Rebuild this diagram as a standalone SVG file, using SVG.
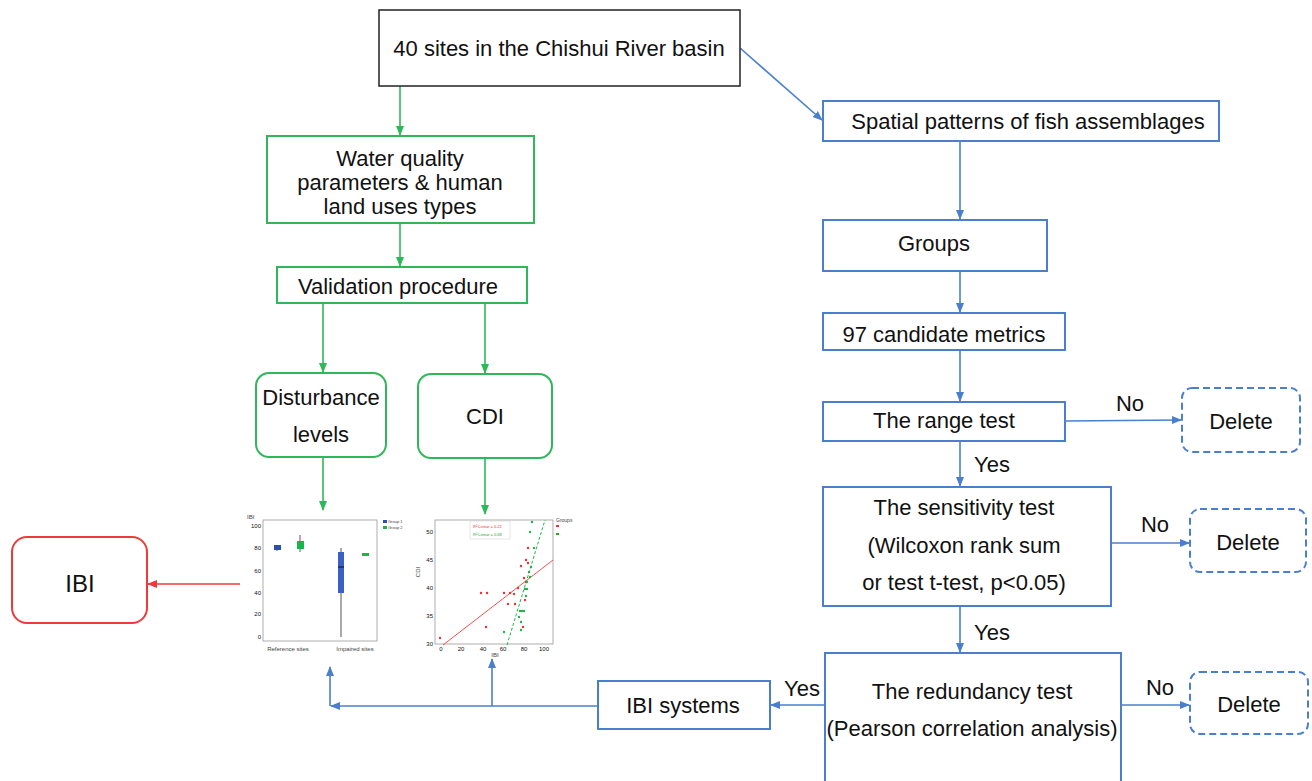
<svg xmlns="http://www.w3.org/2000/svg" width="1312" height="781" viewBox="0 0 1312 781">
<style>
text{font-family:"Liberation Sans",Arial,sans-serif;fill:#111;}
.t{font-size:22px;text-anchor:middle;}
.g{fill:#fff;stroke:#2fb85a;stroke-width:2;}
.b{fill:#fff;stroke:#4a7fd0;stroke-width:2;}
.d{fill:#fff;stroke:#4a7fd0;stroke-width:2;stroke-dasharray:7 4;}
.gl{stroke:#2fb85a;stroke-width:1.6;fill:none;}
.bl{stroke:#4a7fd0;stroke-width:1.6;fill:none;}
.rl{stroke:#f03a3a;stroke-width:1.6;fill:none;}
.s{font-size:6px;fill:#444;}
</style>
<defs>
<marker id="ag" markerWidth="10" markerHeight="10" refX="9" refY="5" orient="auto" markerUnits="userSpaceOnUse"><path d="M0,1 L10,5 L0,9 z" fill="#2fb85a"/></marker>
<marker id="ab" markerWidth="10" markerHeight="10" refX="9" refY="5" orient="auto" markerUnits="userSpaceOnUse"><path d="M0,1 L10,5 L0,9 z" fill="#4a7fd0"/></marker>
<marker id="ar" markerWidth="10" markerHeight="10" refX="9" refY="5" orient="auto" markerUnits="userSpaceOnUse"><path d="M0,1 L10,5 L0,9 z" fill="#f03a3a"/></marker>
</defs>

<g id="connectors">
<line class="gl" x1="400" y1="86" x2="400" y2="135" marker-end="url(#ag)"/>
<line class="gl" x1="400" y1="223" x2="400" y2="266" marker-end="url(#ag)"/>
<line class="gl" x1="323" y1="303" x2="323" y2="372" marker-end="url(#ag)"/>
<line class="gl" x1="485" y1="303" x2="485" y2="373" marker-end="url(#ag)"/>
<line class="gl" x1="323" y1="458" x2="323" y2="510" marker-end="url(#ag)"/>
<line class="gl" x1="485" y1="458" x2="485" y2="514" marker-end="url(#ag)"/>
<line class="rl" x1="240" y1="584" x2="148" y2="584" marker-end="url(#ar)"/>
<line class="bl" x1="740" y1="48" x2="822" y2="120" marker-end="url(#ab)"/>
<line class="bl" x1="960" y1="141" x2="960" y2="219" marker-end="url(#ab)"/>
<line class="bl" x1="960" y1="271" x2="960" y2="312" marker-end="url(#ab)"/>
<line class="bl" x1="960" y1="350" x2="960" y2="401" marker-end="url(#ab)"/>
<line class="bl" x1="960" y1="441" x2="960" y2="486" marker-end="url(#ab)"/>
<line class="bl" x1="960" y1="606" x2="960" y2="652" marker-end="url(#ab)"/>
<line class="bl" x1="1065" y1="421" x2="1181" y2="420" marker-end="url(#ab)"/>
<line class="bl" x1="1111" y1="543" x2="1189" y2="543" marker-end="url(#ab)"/>
<line class="bl" x1="1121" y1="705" x2="1189" y2="705" marker-end="url(#ab)"/>
<line class="bl" x1="825" y1="705" x2="771" y2="705" marker-end="url(#ab)"/>
<line class="bl" x1="598" y1="706" x2="331" y2="706" marker-end="url(#ab)"/>
<line class="bl" x1="330" y1="706" x2="330" y2="667" marker-end="url(#ab)"/>
<line class="bl" x1="492" y1="706" x2="492" y2="659" marker-end="url(#ab)"/>
<text x="1130" y="411" class="t">No</text>
<text x="1155" y="532" class="t">No</text>
<text x="1160" y="695" class="t">No</text>
<text x="992" y="472" class="t">Yes</text>
<text x="992" y="640" class="t">Yes</text>
<text x="802" y="696" class="t">Yes</text>
</g>

<g id="n-sites">
<rect x="379" y="10" width="361" height="76" fill="#fff" stroke="#222" stroke-width="1.5"/>
<text x="559" y="56" class="t">40 sites in the Chishui River basin</text>
</g>
<g id="n-water">
<rect class="g" x="267" y="136" width="267" height="87"/>
<text x="400" y="166" class="t">Water quality</text>
<text x="400" y="190" class="t">parameters &amp; human</text>
<text x="400" y="214" class="t">land uses types</text>
</g>
<g id="n-validation">
<rect class="g" x="277" y="267" width="250" height="36"/>
<text x="398" y="294" class="t">Validation procedure</text>
</g>
<g id="n-disturbance">
<rect class="g" x="256" y="373" width="130" height="84" rx="13"/>
<text x="321" y="405" class="t">Disturbance</text>
<text x="321" y="442" class="t">levels</text>
</g>
<g id="n-cdi">
<rect class="g" x="418" y="374" width="134" height="84" rx="13"/>
<text x="485" y="424" class="t">CDI</text>
</g>
<g id="n-ibi">
<rect x="12" y="537" width="135" height="86" rx="15" fill="#fff" stroke="#f03a3a" stroke-width="2"/>
<text x="80" y="592" class="t" style="font-size:24px">IBI</text>
</g>

<g id="chart-box">
<rect x="263" y="520" width="114" height="121" fill="none" stroke="#999" stroke-width="0.8"/>
<text x="247" y="519" class="s">IBI</text>
<g class="s" text-anchor="end">
<text x="261" y="528">100</text><text x="261" y="550">80</text><text x="261" y="573">60</text>
<text x="261" y="595">40</text><text x="261" y="616">20</text><text x="261" y="639">0</text>
</g>
<line x1="277" y1="545" x2="277" y2="551" stroke="#333" stroke-width="0.8"/>
<rect x="274" y="545" width="7" height="5" fill="#2e4fb0"/>
<line x1="300" y1="535" x2="300" y2="552" stroke="#333" stroke-width="0.8"/>
<rect x="297" y="541" width="7" height="8" fill="#22b24a"/>
<line x1="341" y1="548" x2="341" y2="637" stroke="#555" stroke-width="1"/>
<rect x="338" y="552" width="6" height="41" fill="#3b5fc4"/>
<line x1="338" y1="567" x2="344" y2="567" stroke="#111" stroke-width="1"/>
<rect x="362" y="553" width="7" height="3" fill="#22b24a"/>
<rect x="383" y="520" width="4" height="3" fill="#2e4fb0"/>
<rect x="383" y="526" width="4" height="3" fill="#22b24a"/>
<text x="388" y="523" class="s" style="font-size:4px">Group 1</text>
<text x="388" y="529" class="s" style="font-size:4px">Group 2</text>
<text x="288" y="651" class="s" text-anchor="middle">Reference sites</text>
<text x="355" y="651" class="s" text-anchor="middle">Impaired sites</text>
</g>

<g id="chart-scatter">
<rect x="435" y="520" width="118" height="124" fill="none" stroke="#999" stroke-width="0.8"/>
<g class="s" text-anchor="end">
<text x="433" y="534">50</text><text x="433" y="562">45</text><text x="433" y="590">40</text>
<text x="433" y="618">35</text><text x="433" y="646">30</text>
</g>
<text x="420" y="572" class="s" transform="rotate(-90 420 572)" text-anchor="middle">CDI</text>
<g class="s" text-anchor="middle">
<text x="441" y="651">0</text><text x="461" y="651">20</text><text x="483" y="651">40</text>
<text x="503" y="651">60</text><text x="524" y="651">80</text><text x="544" y="651">100</text>
</g>
<text x="495" y="657" class="s" text-anchor="middle">IBI</text>
<rect x="470" y="521" width="40" height="18" fill="#fff" stroke="#ccc" stroke-width="0.5"/>
<text x="473" y="528" class="s" style="font-size:4px;fill:#e33">R² Linear = 0.22</text>
<text x="473" y="536" class="s" style="font-size:4px;fill:#2a2">R² Linear = 0.68</text>
<text x="556" y="522" class="s" style="font-size:5px">Groups</text>
<rect x="556" y="525" width="3" height="2" fill="#e33"/>
<rect x="556" y="533" width="3" height="2" fill="#2a2"/>
<line x1="443" y1="645" x2="553" y2="560" stroke="#f05050" stroke-width="1"/>
<line x1="507" y1="645" x2="545" y2="520" stroke="#22b24a" stroke-width="1" stroke-dasharray="3 2"/>
<g fill="#ee3030">
<circle cx="440" cy="638" r="1.2"/><circle cx="481" cy="593" r="1.2"/><circle cx="487" cy="593" r="1.2"/>
<circle cx="504" cy="593" r="1.2"/><circle cx="510" cy="593" r="1.2"/><circle cx="508" cy="604" r="1.2"/>
<circle cx="515" cy="604" r="1.2"/><circle cx="486" cy="627" r="1.2"/><circle cx="518" cy="588" r="1.2"/>
<circle cx="521" cy="566" r="1.2"/><circle cx="524" cy="578" r="1.2"/><circle cx="526" cy="560" r="1.2"/>
<circle cx="528" cy="548" r="1.2"/><circle cx="525" cy="600" r="1.2"/><circle cx="523" cy="627" r="1.2"/>
<circle cx="526" cy="582" r="1.2"/><circle cx="528" cy="563" r="1.2"/><circle cx="514" cy="594" r="1.2"/>
</g>
<g fill="#22b24a">
<circle cx="504" cy="632" r="1.2"/><circle cx="520" cy="611" r="1.2"/><circle cx="522" cy="611" r="1.2"/>
<circle cx="524" cy="611" r="1.2"/><circle cx="519" cy="617" r="1.2"/><circle cx="521" cy="622" r="1.2"/>
<circle cx="525" cy="589" r="1.2"/><circle cx="527" cy="589" r="1.2"/><circle cx="527" cy="582" r="1.2"/>
<circle cx="529" cy="572" r="1.2"/><circle cx="530" cy="577" r="1.2"/><circle cx="531" cy="567" r="1.2"/>
<circle cx="534" cy="548" r="1.2"/><circle cx="530" cy="532" r="1.2"/><circle cx="532" cy="522" r="1.2"/>
<circle cx="521" cy="630" r="1.2"/><circle cx="526" cy="596" r="1.2"/>
</g>
</g>

<g id="n-spatial">
<rect class="b" x="823" y="101" width="396" height="40"/>
<text x="1028" y="129" class="t">Spatial patterns of fish assemblages</text>
</g>
<g id="n-groups">
<rect class="b" x="823" y="220" width="224" height="51"/>
<text x="934" y="251" class="t">Groups</text>
</g>
<g id="n-metrics">
<rect class="b" x="823" y="313" width="242" height="37"/>
<text x="944" y="342" class="t">97 candidate metrics</text>
</g>
<g id="n-range">
<rect class="b" x="823" y="402" width="242" height="39"/>
<text x="944" y="428" class="t">The range test</text>
</g>
<g id="n-sensitivity">
<rect class="b" x="823" y="487" width="288" height="119"/>
<text x="964" y="515" class="t">The sensitivity test</text>
<text x="964" y="553" class="t">(Wilcoxon rank sum</text>
<text x="964" y="590" class="t">or test t-test, p&lt;0.05)</text>
</g>
<g id="n-redundancy">
<rect class="b" x="825" y="653" width="296" height="140"/>
<text x="972" y="699" class="t">The redundancy test</text>
<text x="972" y="736" class="t">(Pearson correlation analysis)</text>
</g>
<g id="n-ibisys">
<rect class="b" x="598" y="681" width="172" height="48"/>
<text x="683" y="713" class="t">IBI systems</text>
</g>
<g id="n-del1">
<rect class="d" x="1182" y="388" width="118" height="64" rx="10"/>
<text x="1241" y="429" class="t">Delete</text>
</g>
<g id="n-del2">
<rect class="d" x="1190" y="509" width="116" height="63" rx="10"/>
<text x="1248" y="550" class="t">Delete</text>
</g>
<g id="n-del3">
<rect class="d" x="1190" y="672" width="118" height="62" rx="10"/>
<text x="1249" y="712" class="t">Delete</text>
</g>
</svg>
